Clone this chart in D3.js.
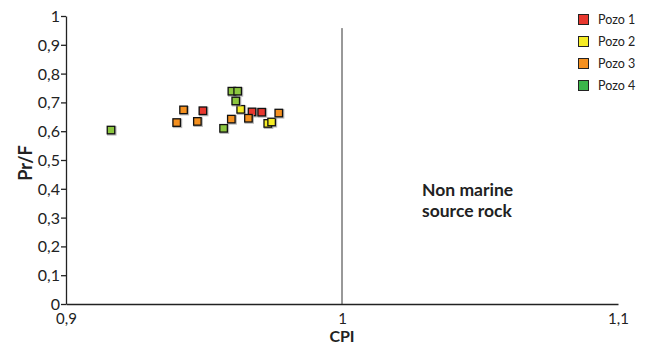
<!DOCTYPE html>
<html>
<head>
<meta charset="utf-8">
<script src="https://cdn.jsdelivr.net/npm/d3@7"></script>
<style>
  html, body { margin: 0; padding: 0; background: #fff; }
  svg { display: block; }
  text { font-family: Lato, "DejaVu Sans", sans-serif; fill: #222; }
</style>
</head>
<body>
<svg id="chart" width="653" height="346"></svg>
<script>
// CPI vs Pr/F for each well
const series = ["Pozo 1", "Pozo 2", "Pozo 3", "Pozo 4"];
const pozo1CPI = [0.9496, 0.9674, 0.9709];
const pozo1PrF = [0.671, 0.667, 0.666];
const pozo2CPI = [0.9633, 0.9731, 0.9745];
const pozo2PrF = [0.676, 0.627, 0.632];
const pozo3CPI = [0.9426, 0.9401, 0.9476, 0.9599, 0.9661, 0.9771];
const pozo3PrF = [0.674, 0.630, 0.634, 0.642, 0.645, 0.663];
const pozo4CPI = [0.9163, 0.9601, 0.9622, 0.9615, 0.9571];
const pozo4PrF = [0.604, 0.739, 0.739, 0.705, 0.610];
const xTicks = [0.9, 1.0, 1.1];
const yTicks = [0, 0.1, 0.2, 0.3, 0.4, 0.5, 0.6, 0.7, 0.8, 0.9, 1];
const regionLabel = ["Non marine", "source rock"];

const markerColors = ["#e8382f", "#f5ec25", "#f4901f", "#8cc63f"];
const legendColors = ["#e8382f", "#f5ec25", "#f4901f", "#3bb54a"];

const svg = d3.select("#chart");
const x = d3.scaleLinear().domain([0.9, 1.1]).range([66, 618]);
const y = d3.scaleLinear().domain([0, 1]).range([304, 16]);
const fmt = d => String(+d.toFixed(1)).replace(".", ",");

// y axis
const yAxis = svg.append("g").attr("transform", `translate(${x(0.9)},0)`)
  .call(d3.axisLeft(y).tickValues(yTicks).tickSize(5).tickSizeOuter(0).tickFormat(fmt));
yAxis.select(".domain").attr("stroke", "#222").attr("stroke-width", 1.3);
yAxis.selectAll(".tick line").attr("stroke", "#222").attr("stroke-width", 1.3);
yAxis.selectAll(".tick text").attr("x", -6).attr("dy", "0.34em")
  .style("font-size", "16px").style("font-family", "Lato, sans-serif").attr("fill", "#222");

// x axis
const xAxis = svg.append("g").attr("transform", `translate(0,${y(0)})`)
  .call(d3.axisBottom(x).tickValues(xTicks).tickSize(0).tickSizeOuter(0).tickFormat(fmt));
xAxis.select(".domain").attr("stroke", "#222").attr("stroke-width", 1.3);
xAxis.selectAll(".tick text").attr("y", 9.5).attr("dy", "0.71em")
  .style("font-size", "15px").style("font-family", "Lato, sans-serif").attr("fill", "#222");

// reference line at CPI = 1
svg.append("line")
  .attr("x1", x(1)).attr("x2", x(1))
  .attr("y1", y(0.958)).attr("y2", y(0))
  .attr("stroke", "#333").attr("stroke-width", 1);

// axis titles
svg.append("text").attr("x", x(1)).attr("y", 342).attr("text-anchor", "middle")
  .style("font-size", "16px").style("font-weight", "bold").text("CPI");
svg.append("text")
  .attr("transform", `translate(32,163) rotate(-90)`)
  .attr("text-anchor", "middle")
  .style("font-size", "18px").style("font-weight", "bold").text("Pr/F");

// region label
const lab = svg.append("text").attr("x", 422).attr("y", 196)
  .style("font-size", "17.5px").style("font-weight", "bold");
regionLabel.forEach((t, i) => lab.append("tspan").attr("x", 422).attr("dy", i ? 21 : 0).text(t));

// points
const cpiSets = [pozo1CPI, pozo2CPI, pozo3CPI, pozo4CPI];
const prfSets = [pozo1PrF, pozo2PrF, pozo3PrF, pozo4PrF];
const s = 7.5;
cpiSets.forEach((cpi, k) => {
  const pts = cpi.map((c, i) => ({ c, p: prfSets[k][i] }));
  const g = svg.append("g");
  g.selectAll("rect.shadow").data(pts).join("rect").attr("class", "shadow")
    .attr("x", d => x(d.c) - s / 2 + 0.8).attr("y", d => y(d.p) - s / 2 + 0.8)
    .attr("width", s).attr("height", s)
    .attr("fill", "none").attr("stroke", "#999").attr("stroke-width", 2).attr("opacity", 0.7);
  g.selectAll("rect.pt").data(pts).join("rect").attr("class", "pt")
    .attr("x", d => x(d.c) - s / 2).attr("y", d => y(d.p) - s / 2)
    .attr("width", s).attr("height", s)
    .attr("fill", markerColors[k]).attr("stroke", "#111").attr("stroke-width", 1.3);
});

// legend
const leg = svg.append("g");
series.forEach((name, i) => {
  const cy = 19.5 + i * 22;
  leg.append("rect").attr("x", 578.5).attr("y", cy - 5).attr("width", 10).attr("height", 10)
    .attr("fill", legendColors[i]).attr("stroke", "#222").attr("stroke-width", 1);
  leg.append("text").attr("x", 598).attr("y", cy).attr("dy", "0.35em")
    .style("font-size", "12.5px").text(name);
});
</script>
</body>
</html>
